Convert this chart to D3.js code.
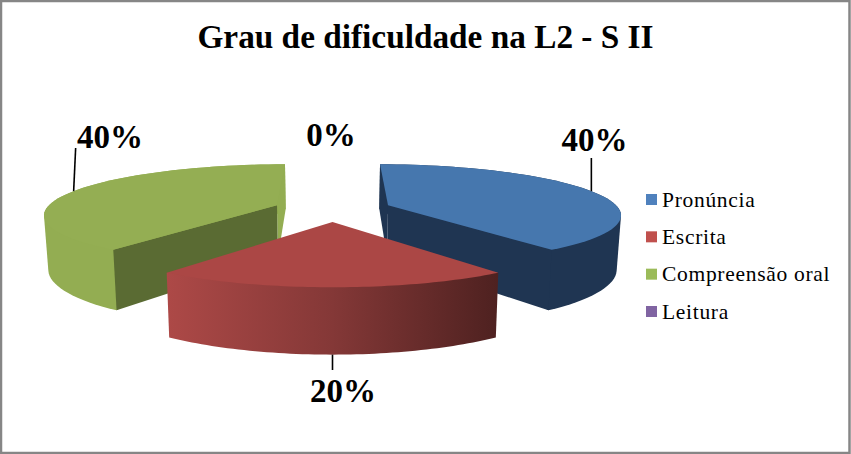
<!DOCTYPE html>
<html>
<head>
<meta charset="utf-8">
<script src="https://cdn.jsdelivr.net/npm/d3@7"></script>
<style>
  html, body { margin: 0; padding: 0; background: #fff; }
  svg { display: block; }
  text { font-family: "Liberation Serif", serif; fill: #000; }
</style>
</head>
<body>
<svg></svg>
<script>
var title = "Grau de dificuldade na L2 - S II";
var categories = ["Pronúncia", "Escrita", "Compreensão oral", "Leitura"];
var values = [40, 20, 40, 0];
var legendColors = ["#4f81bd", "#c0504d", "#9bbb59", "#8064a2"];
var topColors = ["#4677ae", "#ab4745", "#94ae53", "#7a5f9a"];
var startWallColors = ["#1f3552", "#4e2120", "#5a6b33", "#3f3151"];
var endWallColors = ["#1f3552", "#4e2120", "#93ad52", "#3f3151"];

var width = 851, height = 454;

// flat pie -> screen, with a bit of perspective
var cx = 332.5, cy = 209, radX = 231, radY = 49, depth = 53;
var persp = 0.17, explode = 0.256, bottomShrink = 0.985;

var svg = d3.select("svg").attr("width", width).attr("height", height);
var defs = svg.append("defs");

var pie = d3.pie().sort(null).value(function(d){ return d; });
var arcs = pie(values);
var line = d3.line();

function project(u, v, low) {
  var s = 1 / (1 - persp * v);
  var x = radX * u * s * (low ? bottomShrink : 1);
  return [cx + x, cy + radY * v * s + (low ? depth * s : 0)];
}
function centre(a) {
  var mid = (a.startAngle + a.endAngle) / 2;
  return [explode * Math.sin(mid), -explode * Math.cos(mid)];
}
function rimPoint(a, angle, low) {
  var c = centre(a);
  return project(c[0] + Math.sin(angle), c[1] - Math.cos(angle), low);
}
function rim(a, low) {
  return d3.range(0, 61).map(function(i){
    return rimPoint(a, a.startAngle + (a.endAngle - a.startAngle) * i / 60, low);
  });
}
function hub(a, low) {
  var c = centre(a);
  return project(c[0], c[1], low);
}

function drawSlice(a) {
  var i = a.index;
  if (a.value === 0) return;
  var g = svg.append("g");
  var rimFill = topColors[i];
  if (i === 0) rimFill = "#1f3552";
  if (i === 1) {
    var left = rimPoint(a, a.endAngle, false)[0], right = rimPoint(a, a.startAngle, false)[0];
    var grad = defs.append("linearGradient").attr("id", "rimRed")
      .attr("gradientUnits", "userSpaceOnUse")
      .attr("x1", left).attr("x2", right).attr("y1", 0).attr("y2", 0);
    grad.append("stop").attr("offset", 0).attr("stop-color", "#ad4947");
    grad.append("stop").attr("offset", 0.5).attr("stop-color", "#843837");
    grad.append("stop").attr("offset", 1).attr("stop-color", "#4e2120");
    rimFill = "url(#rimRed)";
  }
  if (i === 2) rimFill = "#93ad52";

  // hull of both arcs, the walls and the top paint over the part that is not rim
  var up = rim(a, false), down = rim(a, true);
  g.append("path").attr("fill", rimFill)
    .attr("d", line(d3.polygonHull(up.concat(down))) + "Z");

  // the front slice has its walls facing away
  if (i !== 1) {
    g.append("path").attr("fill", endWallColors[i])
      .attr("d", line([hub(a, false), rimPoint(a, a.endAngle, false), rimPoint(a, a.endAngle, true), hub(a, true)]) + "Z");
    g.append("path").attr("fill", startWallColors[i])
      .attr("d", line([hub(a, false), rimPoint(a, a.startAngle, false), rimPoint(a, a.startAngle, true), hub(a, true)]) + "Z");
  }

  g.append("path").attr("fill", topColors[i])
    .attr("d", line([hub(a, false)].concat(up)) + "Z");
}

// back slices first, the front one last
[0, 2, 1, 3].forEach(function(i){ drawSlice(arcs[i]); });

// leaders start on the rim at the middle of the slice
function midAngle(a) { return (a.startAngle + a.endAngle) / 2; }
var leaderEnd = [158, 370, 148];
[0, 1, 2].forEach(function(i){
  var low = i === 1;
  var p = rimPoint(arcs[i], midAngle(arcs[i]), low);
  var endX = i === 2 ? p[0] + 2 : p[0];
  svg.append("line").attr("stroke", "#000").attr("stroke-width", 1.6)
    .attr("x1", p[0]).attr("y1", p[1])
    .attr("x2", endX).attr("y2", leaderEnd[i]);
});

var labelX = [594.5, 343, 110, 331];
var labelY = [151, 402, 148, 146];
svg.selectAll("text.pct").data(values).enter().append("text")
  .attr("class", "pct")
  .attr("x", function(d, i){ return labelX[i]; })
  .attr("y", function(d, i){ return labelY[i]; })
  .attr("text-anchor", "middle")
  .attr("font-weight", "bold")
  .attr("font-size", 33)
  .text(function(d){ return d + "%"; });

svg.append("text").attr("x", 425.5).attr("y", 48)
  .attr("text-anchor", "middle")
  .attr("font-weight", "bold")
  .attr("font-size", 33.3)
  .text(title);

var legendY = d3.scalePoint().domain(categories).range([199.5, 311.5]);
var legend = svg.selectAll("g.leg").data(categories).enter().append("g").attr("class", "leg");
legend.append("rect")
  .attr("x", 646).attr("width", 11).attr("height", 11)
  .attr("y", function(d){ return legendY(d) - 5.5; })
  .attr("fill", function(d, i){ return legendColors[i]; });
legend.append("text")
  .attr("x", 662)
  .attr("y", function(d){ return legendY(d) + 7; })
  .attr("font-size", 21.5)
  .attr("letter-spacing", 0.7)
  .text(function(d){ return d; });

// chart area border
svg.append("rect").attr("x", 1).attr("y", 1).attr("width", width - 2.5).attr("height", height - 2)
  .attr("fill", "none").attr("stroke", "#868686").attr("stroke-width", 2.5);
</script>
</body>
</html>
